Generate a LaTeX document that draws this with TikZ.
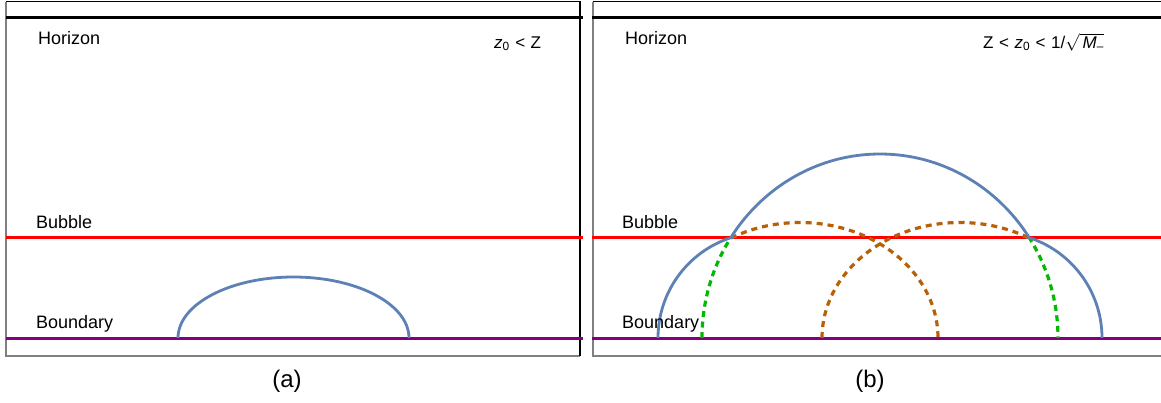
\documentclass[tikz,border=0pt]{standalone}
\usepackage{fontspec}
\setmainfont{Liberation Sans}
\definecolor{geoblue}{RGB}{94,129,181}
\definecolor{bdpurple}{RGB}{128,0,128}
\definecolor{dashorange}{RGB}{185,95,5}
\definecolor{dashgreen}{RGB}{0,185,0}
\definecolor{framegray}{RGB}{128,128,128}
\newcommand{\lsp}{\hspace{5.5pt}}
\begin{document}
\begin{tikzpicture}[x=1pt,y=1pt,
  lbl/.style={anchor=base west,inner sep=0pt,font=\fontsize{18}{21}\selectfont},
  formula/.style={anchor=base west,inner sep=0pt,font=\fontsize{17}{20}\selectfont},
  caption/.style={anchor=base,inner sep=0pt,font=\fontsize{24}{28}\selectfont},
  frameblack/.style={draw=black,line width=1.2pt},
  framegrey/.style={draw=framegray,line width=1.2pt},
  horizonline/.style={draw=black,line width=3pt},
  bubbleline/.style={draw=red,line width=3pt},
  boundaryline/.style={draw=bdpurple,line width=3pt},
  geo/.style={draw=geoblue,line width=2.8pt},
  greendash/.style={draw=dashgreen,line width=3.2pt,dash pattern=on 6pt off 4.5pt},
  orangedash/.style={draw=dashorange,line width=3.2pt,dash pattern=on 6pt off 5pt}]
\useasboundingbox (0,0) rectangle (1161,-402);
\fill[white] (0,0) rectangle (1161,-402);

% ---------- panel (a) ----------
\coordinate (aTL) at (6,-1.5);
\coordinate (aTR) at (580,-1.5);
\coordinate (aBL) at (6,-356);
\coordinate (aBR) at (580,-356);
\draw[framegrey] (aTL) -- (aBL) -- (aBR);
\draw[frameblack] (aTL) -- (aTR) -- (aBR);
\coordinate (aH1) at (6,-17);   \coordinate (aH2) at (583,-17);
\coordinate (aB1) at (6,-237);  \coordinate (aB2) at (583,-237);
\coordinate (aD1) at (6,-338);  \coordinate (aD2) at (583,-338);
\draw[horizonline] (aH1) -- (aH2);
\draw[bubbleline] (aB1) -- (aB2);
\draw[boundaryline] (aD1) -- (aD2);
\coordinate (aG0) at (178,-338);
\draw[geo] (aG0) arc[start angle=180,end angle=0,x radius=115.5,y radius=61];
\node[lbl] (aHor) at (38,-44) {Horizon};
\node[lbl] (aBub) at (36,-228) {Bubble};
\node[lbl] (aBnd) at (36,-328) {Boundary};
\node[formula] (aF) at (494,-48) {\textit{z}\textsubscript{0}\lsp<\lsp Z};
\node[caption] (aCap) at (287,-387) {(a)};

% ---------- panel (b) ----------
\coordinate (bTL) at (593,-1.5);
\coordinate (bTR) at (1162,-1.5);
\coordinate (bBL) at (593,-356);
\coordinate (bBR) at (1162,-356);
\draw[framegrey] (bTL) -- (bBL) -- (bBR);
\draw[frameblack] (bTL) -- (bTR);
\coordinate (bH1) at (592,-17);   \coordinate (bH2) at (1161,-17);
\coordinate (bB1) at (592,-237);  \coordinate (bB2) at (1161,-237);
\coordinate (bD1) at (592,-338);  \coordinate (bD2) at (1161,-338);
\draw[horizonline] (bH1) -- (bH2);
\draw[bubbleline] (bB1) -- (bB2);
\draw[boundaryline] (bD1) -- (bD2);

% green dotted continuation (below bubble)
\begin{scope}
  \clip (593,-237) rectangle (1161,-345);
  \draw[greendash] (702,-338) arc[start angle=180,end angle=0,x radius=178,y radius=184];
\end{scope}
% orange dotted arcs
\draw[orangedash] (731,-238) arc[start angle=120,end angle=0,x radius=138,y radius=115.5];
\draw[orangedash] (822,-338) arc[start angle=180,end angle=60,x radius=138,y radius=115.5];
% blue geodesic: upper part
\begin{scope}
  \clip (593,-237) rectangle (1161,0);
  \draw[geo] (702,-338) arc[start angle=180,end angle=0,x radius=178,y radius=184];
\end{scope}
% blue geodesic: lower parts
\begin{scope}
  \clip (593,-237) rectangle (1161,-345);
  \draw[geo] (658,-338) arc[start angle=180,end angle=100,radius=105.5];
  \draw[geo] (1102,-338) arc[start angle=0,end angle=80,radius=105.5];
\end{scope}

\node[lbl] (bHor) at (625,-44) {Horizon};
\node[lbl] (bBub) at (622,-228) {Bubble};
\node[lbl] (bBnd) at (622,-328) {Boundary};
\node[formula] (bF) at (983,-48) {Z\lsp<\lsp\textit{z}\textsubscript{0}\lsp<\lsp 1/$\sqrt{\mbox{\hspace{3pt}\itshape M\textsubscript{--}}}$};
\node[caption] (bCap) at (870,-387) {(b)};
\end{tikzpicture}
\end{document}
